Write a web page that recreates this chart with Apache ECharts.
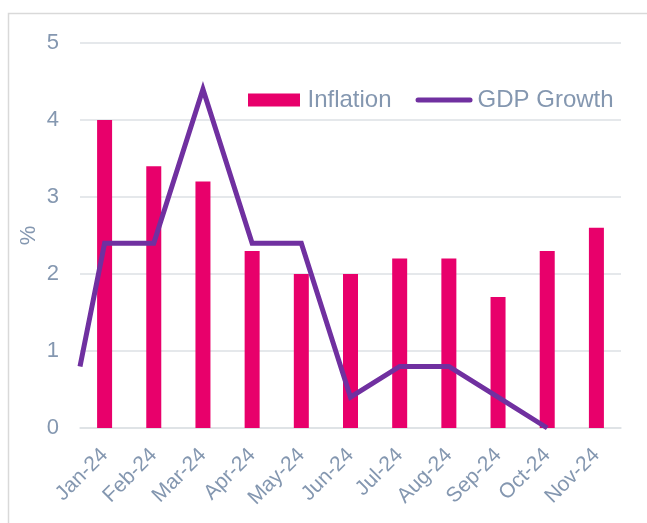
<!DOCTYPE html>
<html>
<head>
<meta charset="utf-8">
<script src="https://cdn.jsdelivr.net/npm/echarts@6/dist/echarts.min.js"></script>
<style>
  html, body { margin: 0; padding: 0; background: #fff; }
  #chart { width: 647px; height: 523px; }
</style>
</head>
<body>
<div id="chart"></div>
<script>
const months = ['Jan-24', 'Feb-24', 'Mar-24', 'Apr-24', 'May-24', 'Jun-24', 'Jul-24', 'Aug-24', 'Sep-24', 'Oct-24', 'Nov-24'];
const inflation = [4.0, 3.4, 3.2, 2.3, 2.0, 2.0, 2.2, 2.2, 1.7, 2.3, 2.6];
// GDP line positions on category index; first point sits on the left edge (clipped series)
const gdpIndex = [-0.5, 0, 1, 2, 3, 4, 5, 6, 7, 8, 9];
const gdpGrowth = [0.8, 2.4, 2.4, 4.4, 2.4, 2.4, 0.4, 0.8, 0.8, 0.4, 0.0];
const yTicks = [0, 1, 2, 3, 4, 5];

const textColor = '#8497B0';
const gridColor = '#dde1e5';
const chart = echarts.init(document.getElementById('chart'));

const option = {
  animation: false,
  textStyle: { fontFamily: 'Liberation Sans, Arial, sans-serif' },
  graphic: [{
    type: 'rect',
    shape: { x: 8.5, y: 13.5, width: 700, height: 600 },
    style: { fill: 'none', stroke: '#d9d9d9', lineWidth: 1.5 },
    silent: true,
  }],
  legend: {
    left: 243,
    top: 83,
    itemWidth: 57,
    itemHeight: 13,
    itemGap: 24,
    textStyle: { color: textColor, fontSize: 24 },
    data: [
      { name: 'Inflation', icon: 'path://M0,0L52,0L52,13L0,13Z' },
      { name: 'GDP Growth', icon: 'path://M2.5,0L54.5,0A2.5,2.5,0,0,1,54.5,5L2.5,5A2.5,2.5,0,0,1,2.5,0Z' },
    ],
  },
  grid: { left: 80, right: 26, top: 43, bottom: 95 },
  xAxis: [
    {
      type: 'category',
      data: months,
      axisTick: { show: false },
      axisLine: { lineStyle: { color: gridColor, width: 1.5 } },
      axisLabel: { rotate: 45, color: textColor, fontSize: 21, margin: 24, interval: 0 },
    },
    {
      type: 'value',
      min: -0.5,
      max: 10.5,
      show: false,
    },
  ],
  yAxis: {
    type: 'value',
    min: yTicks[0],
    max: yTicks[yTicks.length - 1],
    interval: 1,
    name: '%',
    nameLocation: 'middle',
    nameRotate: 90,
    nameGap: 40,
    nameMoveOverlap: false,
    nameTextStyle: { color: textColor, fontSize: 22 },
    axisLine: { show: false },
    axisTick: { show: false },
    axisLabel: { color: textColor, fontSize: 22, margin: 21 },
    splitLine: { lineStyle: { color: gridColor, width: 1.5 } },
  },
  series: [
    {
      name: 'Inflation',
      type: 'bar',
      barWidth: 15,
      itemStyle: { color: '#E8006B' },
      data: inflation,
    },
    {
      name: 'GDP Growth',
      type: 'line',
      xAxisIndex: 1,
      symbol: 'none',
      lineStyle: { color: '#7030A0', width: 5, join: 'miter' },
      itemStyle: { color: '#7030A0' },
      data: gdpIndex.map((x, i) => [x, gdpGrowth[i]]),
    },
  ],
};

chart.setOption(option);
</script>
</body>
</html>
